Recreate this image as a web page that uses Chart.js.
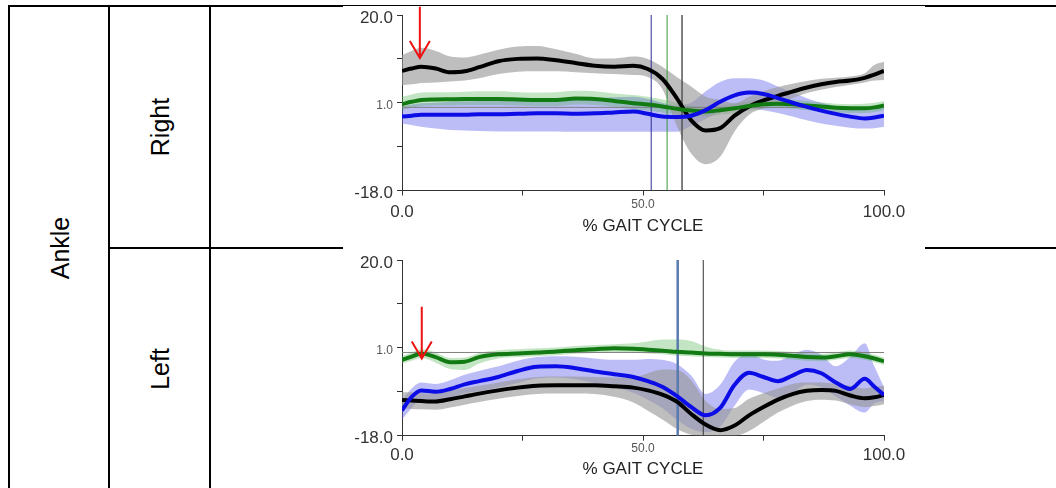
<!DOCTYPE html>
<html>
<head>
<meta charset="utf-8">
<script src="https://cdn.jsdelivr.net/npm/chart.js@4.4.0/dist/chart.umd.min.js"></script>
<style>
  html, body { margin: 0; padding: 0; background: #fff; }
  body { width: 1056px; height: 488px; position: relative; overflow: hidden; font-family: "Liberation Sans", Arial, sans-serif; }
  .rule { position: absolute; background: #000; }
  .label { position: absolute; font-size: 25px; color: #000; white-space: nowrap; transform: translate(-50%, -50%) rotate(-90deg); }
  .plot { position: absolute; background: #fff; }
  .plot canvas { display: block; }
</style>
</head>
<body>
<!-- table rules -->
<div class="rule" style="left:8px;top:5px;width:1048px;height:2px"></div>
<div class="rule" style="left:8px;top:5px;width:2px;height:483px"></div>
<div class="rule" style="left:108px;top:5px;width:2px;height:483px"></div>
<div class="rule" style="left:209px;top:5px;width:2px;height:483px"></div>
<div class="rule" style="left:108px;top:247px;width:948px;height:2px"></div>

<div class="label" style="left:60px;top:248px">Ankle</div>
<div class="label" style="left:160px;top:127px">Right</div>
<div class="label" style="left:160px;top:369px">Left</div>

<div class="plot" style="left:343px;top:6px"><canvas id="rightChart" width="582" height="241"></canvas></div>
<div class="plot" style="left:343px;top:247px"><canvas id="leftChart" width="582" height="241"></canvas></div>

<script>
// % gait cycle sample points (shared by both plots)
const gaitPct = [0, 2, 4, 7, 10, 13, 16, 20, 24, 28, 32, 36, 40, 44, 48, 51, 54, 57, 60, 63, 66, 69, 72, 75, 78, 81, 84, 87, 90, 93, 96, 98, 100];

// axis ticks
const yMin = -18, yMax = 20;
const yTicks = [-18, -8.5, 1, 10.5, 20];
const yTickLabels = ['-18.0', '', '1.0', '', '20.0'];
const xTicks = [0, 25, 50, 75, 100];
const xTickLabels = ['0.0', '', '50.0', '', '100.0'];
const xTitle = '% GAIT CYCLE';

// Right ankle
const rightBlackMean = [7.9, 8.4, 8.8, 8.4, 7.6, 7.8, 8.7, 10.0, 10.5, 10.6, 10.2, 9.6, 9.0, 8.8, 9.0, 8.3, 6.2, 2.0, -2.8, -5.0, -4.5, -1.8, 0.2, 1.5, 2.5, 3.4, 4.3, 5.0, 5.5, 5.8, 6.4, 7.1, 7.9];
const rightBlackHi = [11.3, 12.2, 12.9, 12.2, 11.0, 10.8, 11.4, 12.5, 13.2, 13.3, 12.6, 11.6, 10.6, 10.6, 11.0, 10.5, 8.8, 6.6, 4.5, 2.3, 1.6, 0.9, 2.3, 3.5, 4.4, 5.1, 5.7, 6.2, 6.4, 6.7, 7.4, 9.2, 9.9];
const rightBlackLo = [4.8, 5.0, 5.3, 5.4, 5.6, 5.8, 6.3, 7.2, 7.7, 7.8, 7.8, 7.6, 7.4, 7.2, 7.0, 6.6, 4.0, -4.0, -10.0, -12.3, -10.7, -5.2, -1.6, -0.2, 1.0, 2.0, 3.1, 3.8, 4.4, 4.9, 5.4, 5.8, 5.9];
const rightGreenMean = [0.7, 1.2, 1.6, 1.7, 1.75, 1.8, 1.8, 1.8, 1.7, 1.6, 1.6, 1.9, 1.8, 1.4, 0.9, 0.6, 0.2, -0.3, -0.7, -0.9, -0.6, -0.2, 0.3, 0.7, 0.8, 0.7, 0.4, 0.2, -0.1, -0.2, -0.2, 0.0, 0.4];
const rightGreenHi = [2.3, 2.8, 3.2, 3.3, 3.3, 3.4, 3.5, 3.5, 3.3, 3.2, 3.3, 3.6, 3.5, 3.0, 2.7, 2.3, 1.7, 1.0, 0.4, 0.1, 0.4, 0.8, 1.3, 1.7, 1.8, 1.7, 1.4, 1.1, 0.8, 0.7, 0.8, 1.0, 1.4];
const rightGreenLo = [-0.6, -0.1, 0.3, 0.4, 0.4, 0.5, 0.5, 0.5, 0.4, 0.3, 0.3, 0.6, 0.5, 0.1, -0.4, -0.7, -1.1, -1.5, -1.8, -1.9, -1.6, -1.2, -0.7, -0.3, -0.2, -0.3, -0.6, -0.8, -1.1, -1.2, -1.2, -1.0, -0.6];
const rightBlueMean = [-2.0, -1.8, -1.6, -1.6, -1.6, -1.6, -1.5, -1.5, -1.4, -1.3, -1.3, -1.4, -1.3, -1.1, -0.9, -1.4, -2.0, -2.1, -1.8, -0.6, 1.2, 2.6, 3.2, 2.9, 2.0, 1.0, 0.1, -0.7, -1.4, -2.0, -2.4, -2.2, -1.8];
const rightBlueHi = [0.2, 0.6, 0.9, 1.0, 1.2, 1.3, 1.4, 1.5, 1.6, 1.7, 1.8, 1.9, 2.0, 2.2, 2.3, 1.8, 1.0, 0.4, 1.0, 3.5, 5.5, 6.3, 6.3, 5.8, 4.5, 3.2, 2.0, 1.0, 0.3, -0.2, -0.5, -0.3, 0.0];
const rightBlueLo = [-3.5, -3.8, -4.2, -4.6, -4.9, -5.0, -5.1, -5.2, -5.2, -5.2, -5.2, -5.3, -5.3, -5.3, -5.3, -5.3, -5.3, -5.3, -4.0, -2.5, -1.0, -0.5, -0.3, -0.6, -1.2, -2.0, -2.8, -3.5, -4.0, -4.4, -4.6, -4.5, -4.2];
const rightEvents = [51.7, 55.0, 58.1];
const rightArrow = [3.7, 21.8, 10.7]; // x, from, to

// Left ankle
const leftBlackMean = [-10.3, -10.4, -10.5, -10.6, -10.1, -9.5, -8.9, -8.2, -7.6, -7.2, -7.1, -7.1, -7.1, -7.3, -7.6, -8.2, -9.1, -10.6, -13.3, -15.6, -16.8, -15.8, -13.6, -11.8, -10.2, -9.0, -8.3, -8.1, -8.3, -9.3, -9.9, -9.7, -9.2];
const leftBlackHi = [-8.6, -8.6, -8.8, -8.8, -8.3, -7.7, -7.2, -6.5, -5.8, -5.3, -5.2, -5.2, -5.3, -5.4, -5.4, -4.5, -3.7, -3.8, -6.0, -10.5, -12.2, -12.0, -10.0, -8.8, -7.8, -6.8, -6.5, -6.5, -6.8, -7.2, -7.8, -7.4, -7.2];
const leftBlackLo = [-12.0, -12.2, -12.3, -12.4, -11.9, -11.3, -10.7, -10.0, -9.4, -9.0, -8.9, -8.9, -9.0, -9.6, -10.8, -12.6, -14.5, -16.5, -17.8, -18.0, -18.0, -18.0, -17.0, -15.0, -13.0, -11.5, -10.5, -10.2, -10.4, -11.2, -11.8, -11.6, -11.2];
const leftGreenMean = [-1.6, -0.9, -0.2, -1.0, -2.1, -2.0, -1.0, -0.4, -0.2, 0.0, 0.2, 0.5, 0.7, 0.9, 0.8, 0.6, 0.4, 0.15, 0.0, -0.2, -0.3, -0.4, -0.4, -0.4, -0.5, -0.7, -1.0, -1.1, -0.8, -0.4, -0.8, -1.3, -1.9];
const leftGreenHi = [-0.8, 0.0, 0.7, 0.0, -1.2, -1.1, -0.1, 0.5, 0.7, 0.9, 1.1, 1.4, 1.6, 1.8, 2.0, 2.4, 2.8, 2.8, 2.5, 1.3, 0.6, 0.4, 0.4, 0.4, 0.3, 0.1, -0.2, -0.3, 0.0, 0.4, 0.0, -0.5, -1.1];
const leftGreenLo = [-2.4, -1.8, -1.2, -2.2, -3.6, -3.8, -2.4, -1.3, -1.0, -0.8, -0.6, -0.3, -0.1, 0.1, 0.0, -0.2, -0.4, -0.7, -0.8, -1.0, -1.1, -1.2, -1.2, -1.2, -1.3, -1.5, -1.8, -1.9, -1.6, -1.2, -1.6, -2.1, -2.7];
const leftBlueMean = [-12.5, -9.6, -8.2, -8.5, -7.9, -6.9, -6.2, -5.3, -4.0, -3.1, -3.0, -3.4, -4.1, -4.7, -5.3, -6.2, -7.4, -9.4, -11.8, -13.6, -12.0, -7.0, -4.4, -5.3, -6.2, -5.0, -3.8, -4.5, -6.5, -7.9, -5.7, -7.4, -9.2];
const leftBlueHi = [-10.5, -7.8, -6.5, -6.8, -6.0, -4.8, -4.0, -3.0, -1.8, -1.0, -0.8, -0.9, -1.3, -1.6, -1.6, -1.4, -1.6, -2.5, -5.0, -9.0, -7.0, -2.0, -0.2, -1.5, -1.8, -0.5, 0.6, -0.5, -3.0, -1.0, 2.0, -3.0, -7.5];
const leftBlueLo = [-14.5, -12.0, -10.0, -10.2, -9.8, -8.8, -8.4, -7.6, -6.6, -5.6, -5.4, -5.8, -6.6, -7.5, -8.7, -10.2, -12.0, -14.5, -16.5, -17.2, -16.0, -11.5, -8.0, -8.8, -9.8, -8.7, -7.0, -7.5, -9.5, -11.5, -13.0, -11.0, -10.5];
const leftEvents = [57.2, 62.5];
const leftArrow = [4.1, 9.9, -1.3];

const FONT = '"Liberation Sans", Arial, sans-serif';

function points(ys) {
    return gaitPct.map((x, i) => ({ x: x, y: ys[i] }));
}

// Red arrow annotation, placed through the chart scales
const arrowPlugin = {
    id: 'arrow',
    afterDatasetsDraw(chart, args, opts) {
        if (!opts.at) return;
        const [xv, fromV, toV] = opts.at;
        const ctx = chart.ctx;
        const px = chart.scales.x.getPixelForValue(xv);
        const y0 = chart.scales.y.getPixelForValue(fromV);
        const y1 = chart.scales.y.getPixelForValue(toV);
        ctx.save();
        ctx.strokeStyle = '#ee1111';
        ctx.lineWidth = 2;
        ctx.beginPath();
        ctx.moveTo(px, y0);
        ctx.lineTo(px, y1);
        ctx.moveTo(px - 10, y1 - 17);
        ctx.lineTo(px, y1);
        ctx.lineTo(px + 10, y1 - 17);
        ctx.stroke();
        ctx.restore();
    }
};

function meanLine(ys, color, order) {
    return {
        data: points(ys), borderColor: color, borderWidth: 4, pointRadius: 0,
        cubicInterpolationMode: 'monotone', fill: false, order: order
    };
}

function band(hi, lo, color, order) {
    return [
        { data: points(hi), borderColor: 'rgba(0,0,0,0)', borderWidth: 0, pointRadius: 0,
          cubicInterpolationMode: 'monotone', backgroundColor: color, fill: '+1', order: order },
        { data: points(lo), borderColor: 'rgba(0,0,0,0)', borderWidth: 0, pointRadius: 0,
          cubicInterpolationMode: 'monotone', fill: false, order: order }
    ];
}

function vline(xv, color, width) {
    return {
        data: [{ x: xv, y: yMin }, { x: xv, y: yMax }], borderColor: color, borderWidth: width,
        pointRadius: 0, tension: 0, fill: false, order: 5
    };
}

function buildChart(id, s) {
    const datasets = [
        meanLine(s.blue, '#0c0ce6', 0),
        meanLine(s.green, '#127a12', 1),
        meanLine(s.black, '#000000', 2),
        ...s.events.map((e, i) => vline(e, s.eventColors[i], s.eventWidths[i])),
        { data: [{ x: 0, y: 0 }, { x: 100, y: 0 }], borderColor: '#808080', borderWidth: 1,
          pointRadius: 0, tension: 0, fill: false, order: 6 },
        ...band(s.blackHi, s.blackLo, 'rgba(150,150,150,0.62)', 10),
        ...band(s.greenHi, s.greenLo, 'rgba(70,175,70,0.32)', 11),
        ...band(s.blueHi, s.blueLo, 'rgba(95,95,235,0.42)', 12)
    ];

    return new Chart(document.getElementById(id), {
        type: 'line',
        data: { datasets: datasets },
        plugins: [arrowPlugin],
        options: {
            responsive: false,
            animation: false,
            devicePixelRatio: 1,
            layout: { padding: { top: s.padTop, right: 41, left: 0, bottom: 0 } },
            plugins: {
                legend: { display: false },
                tooltip: { enabled: false },
                arrow: { at: s.arrow }
            },
            scales: {
                x: {
                    type: 'linear', min: 0, max: 100,
                    afterBuildTicks: sc => { sc.ticks = xTicks.map(v => ({ value: v })); },
                    afterFit: sc => { sc.height = s.xHeight; sc.paddingLeft = 0; sc.paddingRight = 0; },
                    grid: { drawOnChartArea: false, drawTicks: true, tickLength: 5, color: '#333', lineWidth: 1 },
                    border: { display: true, color: '#333', width: 1 },
                    ticks: {
                        autoSkip: false, maxRotation: 0, padding: 2,
                        callback: (v, i) => xTickLabels[i],
                        color: c => (c.tick && c.tick.value === 50) ? '#555' : '#333',
                        font: c => (c.tick && c.tick.value === 50)
                            ? { family: FONT, size: 12, lineHeight: s.xSmallLH + 'px' }
                            : { family: FONT, size: 17, lineHeight: s.xBigLH + 'px' }
                    },
                    title: {
                        display: true, text: xTitle, color: '#222',
                        font: { family: FONT, size: 17 },
                        padding: { top: 0, bottom: s.titlePad }
                    }
                },
                y: {
                    type: 'linear', min: yMin, max: yMax,
                    afterBuildTicks: sc => { sc.ticks = yTicks.map(v => ({ value: v })); },
                    afterFit: sc => { sc.width = 59; sc.paddingTop = 0; sc.paddingBottom = 0; },
                    grid: { drawOnChartArea: false, drawTicks: true, tickLength: 5, color: '#333', lineWidth: 1 },
                    border: { display: true, color: '#333', width: 1 },
                    ticks: {
                        autoSkip: false, padding: 4, labelOffset: 3,
                        callback: (v, i) => yTickLabels[i],
                        color: c => (c.tick && c.tick.value === 1) ? '#555' : '#333',
                        font: c => (c.tick && c.tick.value === 1)
                            ? { family: FONT, size: 12 }
                            : { family: FONT, size: 17 }
                    }
                }
            }
        }
    });
}

buildChart('rightChart', {
    black: rightBlackMean, blackHi: rightBlackHi, blackLo: rightBlackLo,
    green: rightGreenMean, greenHi: rightGreenHi, greenLo: rightGreenLo,
    blue: rightBlueMean, blueHi: rightBlueHi, blueLo: rightBlueLo,
    events: rightEvents,
    eventColors: ['#2a2a9a', '#3c963c', '#555555'],
    eventWidths: [1, 1, 1.5],
    arrow: rightArrow,
    padTop: 9, xHeight: 56.5, xBigLH: 29, xSmallLH: 15, titlePad: 10
});

buildChart('leftChart', {
    black: leftBlackMean, blackHi: leftBlackHi, blackLo: leftBlackLo,
    green: leftGreenMean, greenHi: leftGreenHi, greenLo: leftGreenLo,
    blue: leftBlueMean, blueHi: leftBlueHi, blueLo: leftBlueLo,
    events: leftEvents,
    eventColors: ['#5a7ab0', '#333333'],
    eventWidths: [2.5, 1],
    arrow: leftArrow,
    padTop: 13, xHeight: 52.3, xBigLH: 25, xSmallLH: 11, titlePad: 8
});
</script>
</body>
</html>
